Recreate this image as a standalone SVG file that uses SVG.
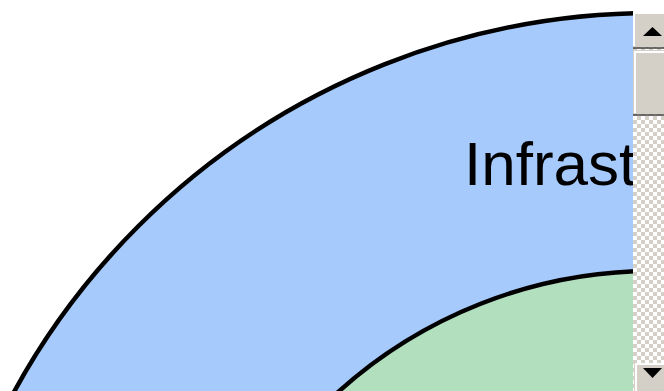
<svg xmlns="http://www.w3.org/2000/svg" width="664" height="391" viewBox="0 0 664 391">
  <defs>
    <pattern id="checker" x="633" y="0" width="8" height="8" patternUnits="userSpaceOnUse">
      <rect width="8" height="8" fill="#ffffff"/>
      <rect width="4" height="4" fill="#d4d0c8"/>
      <rect x="4" y="4" width="4" height="4" fill="#d4d0c8"/>
    </pattern>
  </defs>
  <style>
    .ring { stroke: #000000; stroke-width: 4.5; }
    .lbl { font-family: "Liberation Sans", Arial, sans-serif; font-size: 62px; fill: #000000; }
    .btn { fill: #d4d0c8; }
  </style>
  <rect width="664" height="391" fill="#ffffff"/>
  <g id="outer">
    <circle class="ring" cx="653" cy="741" r="728" fill="#a6cafc"/>
  </g>
  <g id="inner">
    <circle class="ring" cx="653" cy="741" r="470" fill="#b2dfbd"/>
  </g>
  <g id="label">
    <text class="lbl" x="464" y="185">Infrast</text>
  </g>
  <g id="scrollbar">
    <rect x="633" y="0" width="31" height="391" fill="url(#checker)"/>
    <rect x="633" y="0" width="31" height="12" fill="#ffffff"/>
    <rect class="btn" x="633" y="12" width="31" height="35"/>
    <path d="M634 46 V13 H664" fill="none" stroke="#ffffff" stroke-width="2"/>
    <line x1="633" y1="48" x2="664" y2="48" stroke="#404040" stroke-width="1.5"/>
    <polygon points="643,36 652.5,27 662,36" fill="#000000"/>
    <rect class="btn" x="633" y="50" width="31" height="64"/>
    <path d="M635 113 V52 H664" fill="none" stroke="#ffffff" stroke-width="2"/>
    <line x1="633" y1="115" x2="664" y2="115" stroke="#404040" stroke-width="1.5"/>
    <rect class="btn" x="634" y="363" width="30" height="28"/>
    <path d="M636 391 V364 H664" fill="none" stroke="#ffffff" stroke-width="2"/>
    <polygon points="643,368 662,368 652.5,378" fill="#000000"/>
  </g>
</svg>
